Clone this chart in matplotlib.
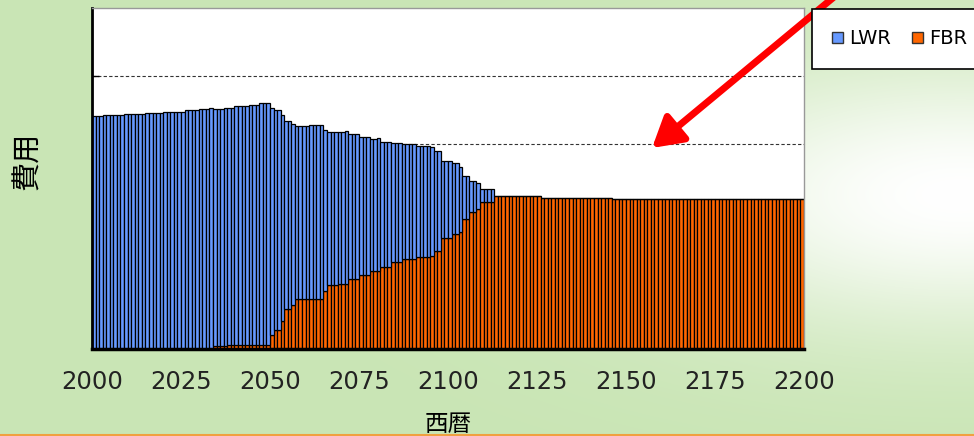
import numpy as np
import matplotlib
matplotlib.use("Agg")
import matplotlib.pyplot as plt
from matplotlib.patches import Patch
from matplotlib.lines import Line2D

plt.rcParams['font.family'] = ['DejaVu Sans', 'Noto Sans CJK JP']

# ── データ (西暦ごとの費用, 読み取り値) ──
years = list(range(2000, 2200))

lwr = [
    3.41, 3.41, 3.41, 3.43, 3.43, 3.43, 3.43, 3.43, 3.43, 3.45,
    3.45, 3.45, 3.45, 3.45, 3.45, 3.46, 3.46, 3.46, 3.46, 3.46,
    3.48, 3.48, 3.48, 3.48, 3.48, 3.48, 3.50, 3.50, 3.50, 3.50,
    3.52, 3.52, 3.52, 3.54, 3.48, 3.48, 3.48, 3.50, 3.48, 3.48,
    3.50, 3.50, 3.50, 3.50, 3.52, 3.52, 3.52, 3.54, 3.54, 3.54,
    3.33, 3.22, 3.22, 3.02, 2.76, 2.76, 2.66, 2.54, 2.54, 2.54,
    2.54, 2.56, 2.56, 2.56, 2.56, 2.36, 2.24, 2.24, 2.24, 2.22,
    2.22, 2.23, 2.13, 2.13, 2.13, 2.03, 2.03, 2.03, 1.93, 1.93,
    1.94, 1.84, 1.84, 1.84, 1.74, 1.74, 1.74, 1.68, 1.68, 1.68,
    1.68, 1.63, 1.63, 1.63, 1.63, 1.59, 1.47, 1.47, 1.13, 1.13,
    1.13, 1.04, 1.04, 0.95, 0.64, 0.64, 0.46, 0.46, 0.38, 0.20,
    0.20, 0.20, 0.20, 0.00, 0.00, 0.00, 0.00, 0.00, 0.00, 0.00,
    0.00, 0.00, 0.00, 0.00, 0.00, 0.00, 0.00, 0.00, 0.00, 0.00,
    0.00, 0.00, 0.00, 0.00, 0.00, 0.00, 0.00, 0.00, 0.00, 0.00,
    0.00, 0.00, 0.00, 0.00, 0.00, 0.00, 0.00, 0.00, 0.00, 0.00,
    0.00, 0.00, 0.00, 0.00, 0.00, 0.00, 0.00, 0.00, 0.00, 0.00,
    0.00, 0.00, 0.00, 0.00, 0.00, 0.00, 0.00, 0.00, 0.00, 0.00,
    0.00, 0.00, 0.00, 0.00, 0.00, 0.00, 0.00, 0.00, 0.00, 0.00,
    0.00, 0.00, 0.00, 0.00, 0.00, 0.00, 0.00, 0.00, 0.00, 0.00,
    0.00, 0.00, 0.00, 0.00, 0.00, 0.00, 0.00, 0.00, 0.00, 0.00,
]

fbr = [
    0.00, 0.00, 0.00, 0.00, 0.00, 0.00, 0.00, 0.00, 0.00, 0.00,
    0.00, 0.00, 0.00, 0.00, 0.00, 0.00, 0.00, 0.00, 0.00, 0.00,
    0.00, 0.00, 0.00, 0.00, 0.00, 0.00, 0.00, 0.00, 0.00, 0.00,
    0.00, 0.00, 0.00, 0.00, 0.04, 0.04, 0.04, 0.04, 0.06, 0.06,
    0.06, 0.06, 0.06, 0.06, 0.06, 0.06, 0.06, 0.06, 0.06, 0.06,
    0.21, 0.28, 0.28, 0.41, 0.58, 0.58, 0.64, 0.73, 0.73, 0.73,
    0.73, 0.73, 0.73, 0.73, 0.73, 0.85, 0.94, 0.94, 0.94, 0.96,
    0.96, 0.96, 1.02, 1.02, 1.02, 1.08, 1.08, 1.08, 1.15, 1.15,
    1.15, 1.20, 1.20, 1.20, 1.28, 1.28, 1.28, 1.32, 1.32, 1.32,
    1.32, 1.35, 1.35, 1.35, 1.35, 1.37, 1.44, 1.44, 1.63, 1.63,
    1.63, 1.68, 1.68, 1.72, 1.90, 1.90, 2.01, 2.01, 2.05, 2.15,
    2.15, 2.15, 2.15, 2.25, 2.25, 2.25, 2.25, 2.25, 2.25, 2.25,
    2.25, 2.25, 2.25, 2.25, 2.25, 2.25, 2.22, 2.22, 2.22, 2.22,
    2.22, 2.22, 2.22, 2.22, 2.22, 2.22, 2.22, 2.22, 2.22, 2.22,
    2.22, 2.22, 2.22, 2.22, 2.22, 2.22, 2.20, 2.20, 2.20, 2.20,
    2.20, 2.20, 2.20, 2.20, 2.20, 2.20, 2.20, 2.20, 2.20, 2.20,
    2.20, 2.20, 2.20, 2.20, 2.20, 2.20, 2.20, 2.20, 2.20, 2.20,
    2.20, 2.20, 2.20, 2.20, 2.20, 2.20, 2.20, 2.20, 2.20, 2.20,
    2.20, 2.20, 2.20, 2.20, 2.20, 2.20, 2.20, 2.20, 2.20, 2.20,
    2.20, 2.20, 2.20, 2.20, 2.20, 2.20, 2.20, 2.20, 2.20, 2.20,
]

xticks = [2000, 2025, 2050, 2075, 2100, 2125, 2150, 2175, 2200]
labels = ["LWR", "FBR"]
c_lwr = "#6699FF"
c_fbr = "#FF6600"

W, H = 974, 436
fig = plt.figure(figsize=(W / 100, H / 100), dpi=100)

# ── 背景 (緑のグラデーション) ──
gx, gy = np.meshgrid(np.arange(W), np.arange(H))
w = np.exp(-(((gx - 960) / 330.0) ** 2 + ((gy - 195) / 135.0) ** 2))
green = np.array([0.79, 0.90, 0.71])
white = np.array([1.0, 1.0, 1.0])
img = green[None, None, :] * (1 - w[..., None]) + white[None, None, :] * w[..., None]
bg = fig.add_axes([0, 0, 1, 1], zorder=-5)
bg.imshow(img, aspect='auto', interpolation='bilinear')
bg.axis('off')

# ── 棒グラフ ──
ax = fig.add_axes([92 / W, (H - 349) / H, 712 / W, 341 / H])
ax.set_facecolor("white")
ax.bar(years, fbr, width=1.0, align='edge', color=c_fbr, edgecolor="black", linewidth=0.9, zorder=2)
ax.bar(years, lwr, width=1.0, align='edge', bottom=fbr, color=c_lwr, edgecolor="black", linewidth=0.9, zorder=2)

ax.set_xlim(2000, 2200)
ax.set_ylim(0, 5)
ax.set_yticks([1, 2, 3, 4])
ax.set_yticklabels([])
ax.tick_params(axis='y', direction='in', length=5, width=1, left=True)
ax.set_xticks(xticks)
ax.set_xticklabels([str(t) for t in xticks], fontsize=17.5, color="#222222")
ax.tick_params(axis='x', length=0, pad=15)
ax.yaxis.grid(True, linestyle=(0, (3, 2)), color="#333333", linewidth=0.8, zorder=1)
ax.set_axisbelow(True)

ax.spines['left'].set_linewidth(2)
ax.spines['bottom'].set_linewidth(2.5)
for s in ('top', 'right'):
    ax.spines[s].set_color("#999999")
    ax.spines[s].set_linewidth(1)

ax.set_xlabel("西暦", fontsize=17, family=['Noto Sans CJK JP'], labelpad=14)
fig.text(28 / W, 1 - 161 / H, "費用", rotation=90, fontsize=21, family=['Noto Sans CJK JP'],
         ha='center', va='center')

# ── 凡例 ──
handles = [Patch(facecolor=c_lwr, edgecolor="#333333"), Patch(facecolor=c_fbr, edgecolor="#333333")]
leg = fig.legend(handles, labels, loc='upper left', bbox_to_anchor=(812 / W, 1 - 9 / H), ncol=2,
                 fontsize=14, frameon=True, fancybox=False, framealpha=1, edgecolor="black",
                 borderaxespad=0, borderpad=1.05, handlelength=0.55, handleheight=0.55,
                 handletextpad=0.3, columnspacing=1.1)
leg.get_frame().set_linewidth(1.2)

# ── 赤い矢印 ──
ax.annotate('', xy=(652, H - 148), xycoords='figure pixels', xytext=(840, H + 8),
            textcoords='figure pixels', annotation_clip=False, zorder=10,
            arrowprops=dict(arrowstyle='-|>,head_length=0.6,head_width=0.35', color='red',
                            lw=5, mutation_scale=30, shrinkA=0, shrinkB=0))

fig.add_artist(Line2D([0, 1], [0.002, 0.002], transform=fig.transFigure, color="#F0A040", lw=1.5))

fig.savefig("out.png", dpi=100)
